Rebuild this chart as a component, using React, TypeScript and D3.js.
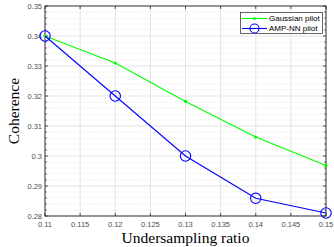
import React from "react";
import * as d3 from "d3";

const ratios = [0.11, 0.12, 0.13, 0.14, 0.15];
const gaussianPilot = [0.34, 0.331, 0.3182, 0.3063, 0.2968];
const ampNnPilot = [0.34, 0.32, 0.3, 0.2859, 0.281];
const xTicks = [0.11, 0.115, 0.12, 0.125, 0.13, 0.135, 0.14, 0.145, 0.15];
const yTicks = [0.28, 0.29, 0.3, 0.31, 0.32, 0.33, 0.34, 0.35];

const W = 334;
const H = 247;
const m = { left: 45, right: 8, top: 6, bottom: 31 };

const App = () => {
  const x = d3.scaleLinear().domain([0.11, 0.15]).range([m.left, W - m.right]);
  const y = d3.scaleLinear().domain([0.28, 0.35]).range([H - m.bottom, m.top]);
  const yMinor = d3.range(0.28, 0.3501, 0.002).filter(
    (v) => Math.abs(Math.round(v * 100) - v * 100) > 0.01
  );

  const mkLine = d3
    .line<number>()
    .x((_, i) => x(ratios[i]))
    .y((d) => y(d));

  const x0 = m.left;
  const x1 = W - m.right;
  const y0 = H - m.bottom;
  const y1 = m.top;
  const tickFont = "Liberation Sans, Arial, sans-serif";
  const serif = "Liberation Serif, Times New Roman, serif";

  return (
    <svg width={W} height={H} style={{ position: "absolute", left: 0, top: 0, background: "#fff" }}>
      {/* minor dotted grid */}
      {yMinor.map((v) => (
        <line key={"mg" + v} x1={x0} x2={x1} y1={y(v)} y2={y(v)} stroke="#d8d8d8" strokeWidth={0.6} strokeDasharray="1,1.5" />
      ))}
      {/* major grid */}
      {xTicks.map((v) => (
        <line key={"gx" + v} x1={x(v)} x2={x(v)} y1={y0} y2={y1} stroke="#e3e3e3" strokeWidth={1} />
      ))}
      {yTicks.map((v) => (
        <line key={"gy" + v} x1={x0} x2={x1} y1={y(v)} y2={y(v)} stroke="#e3e3e3" strokeWidth={1} />
      ))}

      {/* ticks */}
      {xTicks.map((v) => (
        <g key={"tx" + v}>
          <line x1={x(v)} x2={x(v)} y1={y0} y2={y0 - 3} stroke="#262626" strokeWidth={0.8} />
          <line x1={x(v)} x2={x(v)} y1={y1} y2={y1 + 3} stroke="#262626" strokeWidth={0.8} />
          <text x={x(v)} y={y0 + 11} textAnchor="middle" fontSize={7.5} fontFamily={tickFont} fill="#4d4d4d">
            {String(v)}
          </text>
        </g>
      ))}
      {yTicks.map((v) => (
        <g key={"ty" + v}>
          <line x1={x0} x2={x0 + 3} y1={y(v)} y2={y(v)} stroke="#262626" strokeWidth={0.8} />
          <line x1={x1} x2={x1 - 3} y1={y(v)} y2={y(v)} stroke="#262626" strokeWidth={0.8} />
          <text x={x0 - 3} y={y(v) + 2.6} textAnchor="end" fontSize={7.5} fontFamily={tickFont} fill="#4d4d4d">
            {String(v)}
          </text>
        </g>
      ))}
      {yMinor.map((v) => (
        <g key={"my" + v}>
          <line x1={x0} x2={x0 + 1.8} y1={y(v)} y2={y(v)} stroke="#262626" strokeWidth={0.7} />
          <line x1={x1} x2={x1 - 1.8} y1={y(v)} y2={y(v)} stroke="#262626" strokeWidth={0.7} />
        </g>
      ))}

      {/* box */}
      <rect x={x0} y={y1} width={x1 - x0} height={y0 - y1} fill="none" stroke="#262626" strokeWidth={0.9} />

      {/* series */}
      <path d={mkLine(gaussianPilot) || ""} fill="none" stroke="#00ff00" strokeWidth={1.1} />
      {gaussianPilot.map((v, i) => (
        <circle key={"gp" + i} cx={x(ratios[i])} cy={y(v)} r={1.6} fill="#00ff00" />
      ))}
      <path d={mkLine(ampNnPilot) || ""} fill="none" stroke="#0000ff" strokeWidth={1.1} />
      {ampNnPilot.map((v, i) => (
        <circle key={"ap" + i} cx={x(ratios[i])} cy={y(v)} r={5.2} fill="none" stroke="#0000ff" strokeWidth={1.1} />
      ))}

      {/* legend */}
      <rect x={240.5} y={12.5} width={82} height={21} fill="#fff" stroke="#262626" strokeWidth={0.7} />
      <line x1={242} x2={267} y1={18.5} y2={18.5} stroke="#00ff00" strokeWidth={1.1} />
      <circle cx={254.5} cy={18.5} r={1.6} fill="#00ff00" />
      <text x={269} y={21} fontSize={8} fontFamily={tickFont} fill="#000">Gaussian pilot</text>
      <line x1={242} x2={267} y1={28.5} y2={28.5} stroke="#0000ff" strokeWidth={1.1} />
      <circle cx={254.5} cy={28.5} r={4.5} fill="none" stroke="#0000ff" strokeWidth={1.1} />
      <text x={269} y={31} fontSize={8} fontFamily={tickFont} fill="#000">AMP-NN pilot</text>

      {/* axis labels */}
      <text x={(x0 + x1) / 2} y={243} textAnchor="middle" fontSize={15.5} fontFamily={serif} fill="#000">
        Undersampling ratio
      </text>
      <text transform={`translate(19,${(y0 + y1) / 2}) rotate(-90)`} textAnchor="middle" fontSize={15.5} fontFamily={serif} fill="#000">
        Coherence
      </text>
    </svg>
  );
};

export default App;
